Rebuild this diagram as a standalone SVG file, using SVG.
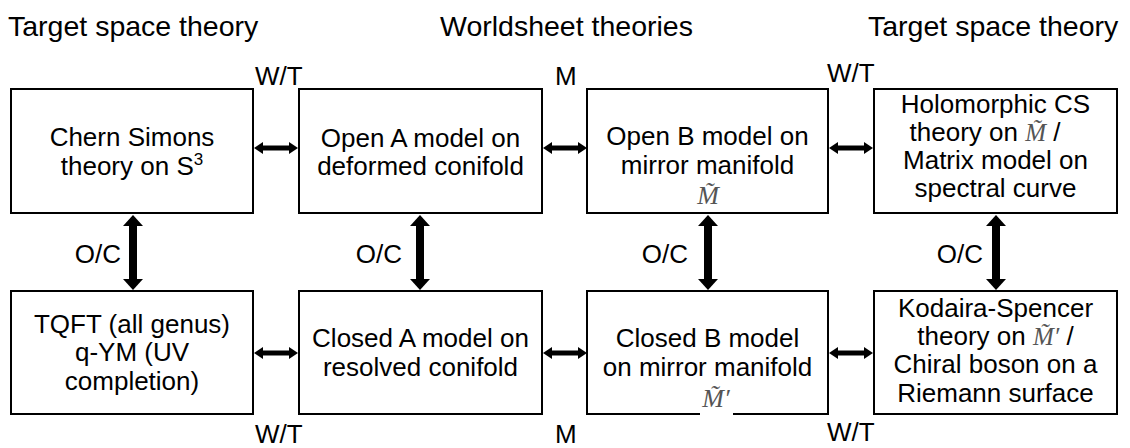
<svg xmlns="http://www.w3.org/2000/svg" width="1130" height="448" viewBox="0 0 1130 448">
  <defs>
    <style>
      .box { fill: #ffffff; stroke: #000000; stroke-width: 2; }
      .t { font-family: "Liberation Sans", Arial, sans-serif; font-size: 26px; fill: #000000; text-anchor: middle; }
      .title { font-family: "Liberation Sans", Arial, sans-serif; font-size: 28.5px; fill: #000000; }
      .lbl { font-family: "Liberation Sans", Arial, sans-serif; font-size: 26px; fill: #000000; }
      .math { font-family: "Liberation Serif", "Times New Roman", serif; font-style: italic; fill: #555555; }
      .h { stroke: #000000; stroke-width: 5; fill: none; marker-start: url(#hs); marker-end: url(#hs); }
      .v { stroke: #000000; stroke-width: 8; fill: none; marker-start: url(#vs); marker-end: url(#vs); }
    </style>
    <marker id="hs" viewBox="0 -6 9 12" refX="0" refY="0" markerWidth="9" markerHeight="12" markerUnits="userSpaceOnUse" orient="auto-start-reverse">
      <path d="M0,-6 L9,0 L0,6 z" fill="#000000"/>
    </marker>
    <marker id="vs" viewBox="0 -10 11 20" refX="0" refY="0" markerWidth="11" markerHeight="20" markerUnits="userSpaceOnUse" orient="auto-start-reverse">
      <path d="M0,-10 L11,0 L0,10 z" fill="#000000"/>
    </marker>
  </defs>

  <g id="titles">
    <text class="title" x="8" y="36">Target space theory</text>
    <text class="title" x="440" y="36">Worldsheet theories</text>
    <text class="title" x="868" y="36">Target space theory</text>
  </g>

  <g id="connectors">
    <line class="h" x1="263" y1="148" x2="289" y2="148"/>
    <line class="h" x1="552" y1="148" x2="578" y2="148"/>
    <line class="h" x1="838" y1="148" x2="864" y2="148"/>
    <line class="h" x1="263" y1="353" x2="289" y2="353"/>
    <line class="h" x1="552" y1="353" x2="578" y2="353"/>
    <line class="h" x1="838" y1="353" x2="864" y2="353"/>
    <line class="v" x1="133" y1="226" x2="133" y2="279"/>
    <line class="v" x1="420" y1="226" x2="420" y2="279"/>
    <line class="v" x1="708" y1="226" x2="708" y2="279"/>
    <line class="v" x1="996" y1="226" x2="996" y2="279"/>
  </g>

  <g id="edge-labels">
    <text class="lbl" x="255" y="85">W/T</text>
    <text class="lbl" x="555" y="85">M</text>
    <text class="lbl" x="827" y="82">W/T</text>
    <text class="lbl" x="255" y="443">W/T</text>
    <text class="lbl" x="555" y="443">M</text>
    <text class="lbl" x="827" y="441">W/T</text>
    <text class="lbl" x="121" y="263" text-anchor="end">O/C</text>
    <text class="lbl" x="402" y="263" text-anchor="end">O/C</text>
    <text class="lbl" x="688" y="263" text-anchor="end">O/C</text>
    <text class="lbl" x="983" y="263" text-anchor="end">O/C</text>
  </g>

  <g id="chern-simons">
    <rect class="box" x="11" y="89" width="242" height="124"/>
    <text class="t" x="132" y="146">Chern Simons</text>
    <text class="t" x="132" y="175">theory on S<tspan font-size="17" dy="-10">3</tspan></text>
  </g>

  <g id="open-a">
    <rect class="box" x="299" y="89" width="243" height="124"/>
    <text class="t" x="420.5" y="147">Open A model on</text>
    <text class="t" x="420.5" y="175">deformed conifold</text>
  </g>

  <g id="open-b">
    <rect class="box" x="587" y="89" width="241" height="124"/>
    <text class="t" x="707.5" y="145">Open B model on</text>
    <text class="t" x="707.5" y="174">mirror manifold</text>
    <text class="t math" x="708" y="204" font-size="25">M̃</text>
  </g>

  <g id="holomorphic-cs">
    <rect class="box" x="874" y="89" width="243" height="124"/>
    <text class="t" x="995.5" y="113">Holomorphic CS</text>
    <text class="t" x="985" y="141">theory on <tspan class="math" font-size="25">M̃</tspan> /</text>
    <text class="t" x="995.5" y="169">Matrix model on</text>
    <text class="t" x="995.5" y="197">spectral curve</text>
  </g>

  <g id="tqft">
    <rect class="box" x="11" y="291" width="242" height="123"/>
    <text class="t" x="132" y="333">TQFT (all genus)</text>
    <text class="t" x="132" y="361">q-YM (UV</text>
    <text class="t" x="132" y="390">completion)</text>
  </g>

  <g id="closed-a">
    <rect class="box" x="299" y="291" width="243" height="123"/>
    <text class="t" x="420.5" y="347">Closed A model on</text>
    <text class="t" x="420.5" y="376">resolved conifold</text>
  </g>

  <g id="closed-b">
    <rect class="box" x="587" y="291" width="241" height="123"/>
    <rect x="700" y="411" width="33" height="6" fill="#ffffff"/>
    <text class="t" x="707.5" y="347">Closed B model</text>
    <text class="t" x="707.5" y="376">on mirror manifold</text>
    <text class="t math" x="716" y="407" font-size="25">M̃′</text>
  </g>

  <g id="kodaira-spencer">
    <rect class="box" x="874" y="291" width="243" height="123"/>
    <text class="t" x="995.5" y="317">Kodaira-Spencer</text>
    <text class="t" x="995.5" y="345">theory on <tspan class="math" font-size="25">M̃′</tspan> /</text>
    <text class="t" x="995.5" y="373">Chiral boson on a</text>
    <text class="t" x="995.5" y="402">Riemann surface</text>
  </g>
</svg>
